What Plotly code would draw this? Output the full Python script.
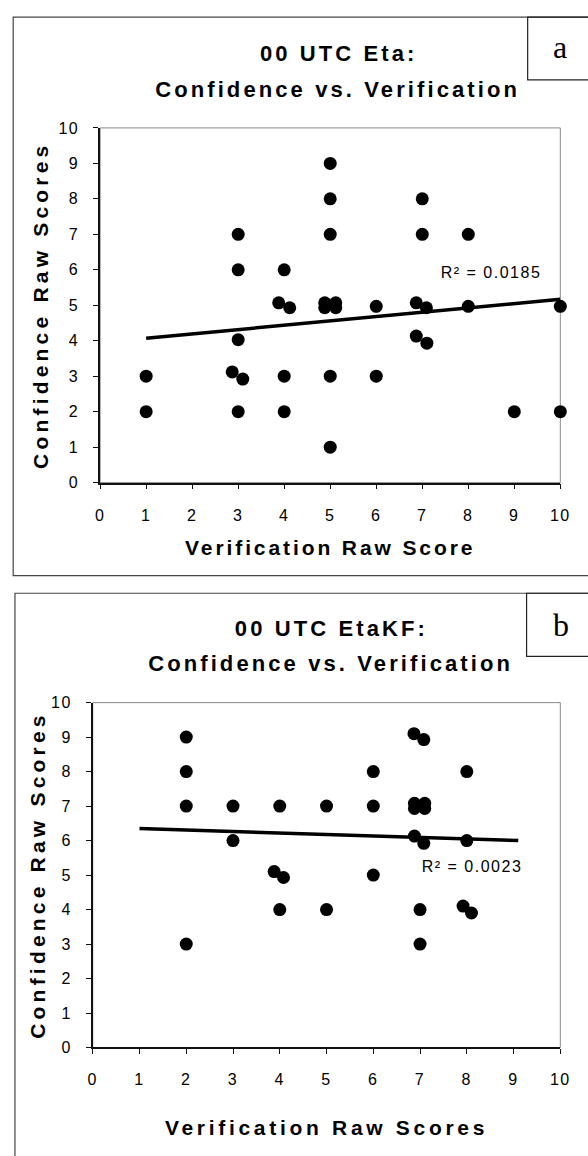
import plotly.graph_objects as go

# ---------------- data ----------------
# Panel a: 00 UTC Eta
eta_verification = [5, 5, 5, 7, 7, 3, 3, 4, 8,
                    3.88, 4.12, 4.88, 5.12, 4.88, 5.12, 6, 6.87, 7.09, 8, 10,
                    3, 6.87, 7.1,
                    1, 2.87, 3.1, 4, 5, 6,
                    1, 3, 4, 9, 10,
                    5]
eta_confidence = [9, 8, 7, 8, 7, 7, 6, 6, 7,
                  5.07, 4.93, 5.07, 5.07, 4.93, 4.93, 4.97, 5.07, 4.93, 4.97, 4.97,
                  4.03, 4.13, 3.93,
                  3, 3.12, 2.92, 3, 3, 3,
                  2, 2, 2, 2, 2,
                  1]
eta_trend_x = [1, 10]
eta_trend_y = [4.07, 5.17]
eta_r2_label = "R² = 0.0185"

# Panel b: 00 UTC EtaKF
kf_verification = [2, 2, 2, 2, 3, 3, 4, 3.88, 4.08, 4, 5, 5, 6, 6, 6,
                   6.87, 7.08, 6.88, 7.1, 6.88, 7.1, 6.88, 7.08, 7, 7,
                   8, 8, 7.92, 8.1]
kf_confidence = [9, 8, 7, 3, 7, 6, 7, 5.1, 4.93, 4, 7, 4, 8, 7, 5,
                 9.1, 8.93, 7.08, 7.08, 6.93, 6.93, 6.13, 5.92, 4, 3,
                 8, 6, 4.1, 3.9]
kf_trend_x = [1, 9.1]
kf_trend_y = [6.35, 6.0]
kf_r2_label = "R² = 0.0023"

tick_vals = list(range(0, 11))
tick_text = [str(v) for v in tick_vals]

title_a = ["00 UTC Eta:", "Confidence vs. Verification"]
title_b = ["00 UTC EtaKF:", "Confidence vs. Verification"]
xtitle_a = "Verification Raw Score"
xtitle_b = "Verification Raw Scores"
ytitle = "Confidence Raw Scores"
panel_labels = ["a", "b"]

# ---------------- figure ----------------
W, H = 588, 1156
SANS = "Liberation Sans, Arial, Helvetica, sans-serif"
SERIF = "Liberation Serif, Times New Roman, serif"


def px(x):
    return x / W


def py(y):
    return 1 - y / H


fig = go.Figure()

marker = dict(size=13, color="black", line=dict(width=0))
fig.add_trace(go.Scatter(x=eta_verification, y=eta_confidence, mode="markers",
                         marker=marker, cliponaxis=False, xaxis="x", yaxis="y"))
fig.add_trace(go.Scatter(x=eta_trend_x, y=eta_trend_y, mode="lines",
                         line=dict(color="black", width=3.5), cliponaxis=False,
                         xaxis="x", yaxis="y"))
fig.add_trace(go.Scatter(x=kf_verification, y=kf_confidence, mode="markers",
                         marker=marker, cliponaxis=False, xaxis="x2", yaxis="y2"))
fig.add_trace(go.Scatter(x=kf_trend_x, y=kf_trend_y, mode="lines",
                         line=dict(color="black", width=3.5), cliponaxis=False,
                         xaxis="x2", yaxis="y2"))

tickfont = dict(family=SANS, size=16, color="black")
titlefont = dict(family=SANS, size=21, color="black", weight="bold")

common_axis = dict(range=[0, 10], tickmode="array", tickvals=tick_vals, ticktext=tick_text,
                   showgrid=False, zeroline=False, showline=True, linecolor="#111",
                   linewidth=1.5, ticks="outside", ticklen=5, tickwidth=1.2,
                   tickcolor="#111", tickfont=tickfont, fixedrange=True)

fig.update_layout(
    width=W, height=H,
    margin=dict(l=0, r=0, t=0, b=0),
    paper_bgcolor="white", plot_bgcolor="white",
    showlegend=False,
    xaxis=dict(common_axis, domain=[px(98.3), px(568.9)], anchor="y",
               ticklabelstandoff=12,
               title=dict(text=xtitle_a, font=titlefont, standoff=18)),
    yaxis=dict(common_axis, domain=[py(481.7), py(121.7)], anchor="x",
               ticklabelstandoff=11,
               title=dict(text=ytitle, font=titlefont, standoff=7)),
    xaxis2=dict(common_axis, domain=[px(90.75), px(568.9)], anchor="y2",
                ticklabelstandoff=12,
                title=dict(text=xtitle_b, font=titlefont, standoff=33)),
    yaxis2=dict(common_axis, domain=[py(1055), py(705)], anchor="x2",
                ticklabelstandoff=11,
                title=dict(text=ytitle, font=titlefont, standoff=3)),
)

shapes = []
# outer panel frames
shapes.append(dict(type="rect", xref="paper", yref="paper",
                   x0=px(9.4), x1=1.05, y0=py(576), y1=py(9.3),
                   line=dict(color="#444", width=1.2), layer="below"))
shapes.append(dict(type="rect", xref="paper", yref="paper",
                   x0=px(11.2), x1=1.05, y0=-0.05, y1=py(594),
                   line=dict(color="#444", width=1.2), layer="below"))
# panel label boxes
shapes.append(dict(type="rect", xref="paper", yref="paper",
                   x0=px(535.5), x1=1.05, y0=py(73), y1=py(9.3),
                   line=dict(color="#222", width=1.2)))
shapes.append(dict(type="rect", xref="paper", yref="paper",
                   x0=px(534.4), x1=1.05, y0=py(658), y1=py(594),
                   line=dict(color="#222", width=1.2)))
# plot area borders (thin gray)
for xr, yr in [("x domain", "y domain"), ("x2 domain", "y2 domain")]:
    shapes.append(dict(type="rect", xref=xr, yref=yr, x0=0, x1=1, y0=0, y1=1,
                       line=dict(color="#888", width=1), layer="below"))
fig.update_layout(shapes=shapes)

ann = []
hfont = dict(family=SANS, size=22, color="black", weight="bold")
ann.append(dict(text=title_a[0], x=px(342), y=py(45.7), xref="paper", yref="paper",
                showarrow=False, font=hfont, xanchor="center", yanchor="middle"))
ann.append(dict(text=title_a[1], x=px(341), y=py(83), xref="paper", yref="paper",
                showarrow=False, font=hfont, xanchor="center", yanchor="middle"))
ann.append(dict(text=title_b[0], x=px(335), y=py(629.5), xref="paper", yref="paper",
                showarrow=False, font=hfont, xanchor="center", yanchor="middle"))
ann.append(dict(text=title_b[1], x=px(333.5), y=py(665.5), xref="paper", yref="paper",
                showarrow=False, font=hfont, xanchor="center", yanchor="middle"))
rfont = dict(family=SANS, size=16, color="black")
ann.append(dict(text=eta_r2_label, x=8.49, y=5.91, xref="x", yref="y",
                showarrow=False, font=rfont, xanchor="center", yanchor="middle"))
ann.append(dict(text=kf_r2_label, x=8.12, y=5.24, xref="x2", yref="y2",
                showarrow=False, font=rfont, xanchor="center", yanchor="middle"))
lfont = dict(family=SERIF, size=32, color="black")
ann.append(dict(text=panel_labels[0], x=px(568.5), y=py(40), xref="paper", yref="paper",
                showarrow=False, font=lfont, xanchor="center", yanchor="middle"))
ann.append(dict(text=panel_labels[1], x=px(569.5), y=py(626), xref="paper", yref="paper",
                showarrow=False, font=lfont, xanchor="center", yanchor="middle"))
fig.update_layout(annotations=ann)

css = (
    ".annotation[data-index='0'] .annotation-text,"
    ".annotation[data-index='1'] .annotation-text,"
    ".annotation[data-index='2'] .annotation-text,"
    ".annotation[data-index='3'] .annotation-text{letter-spacing:3.1px}"
    ".annotation[data-index='4'] .annotation-text,"
    ".annotation[data-index='5'] .annotation-text{letter-spacing:1.5px}"
    ".xtitle{letter-spacing:2.9px}"
    ".x2title{letter-spacing:3.7px}"
    ".ytitle,.y2title{letter-spacing:4.2px}"
    ".xtick text,.ytick text,.x2tick text,.y2tick text{letter-spacing:1.5px}"
)
post = ("var s=document.createElement('style');s.textContent=\"" + css +
        "\";document.head.appendChild(s);")

fig.write_html("out.html", post_script=post, config={"displayModeBar": False})
